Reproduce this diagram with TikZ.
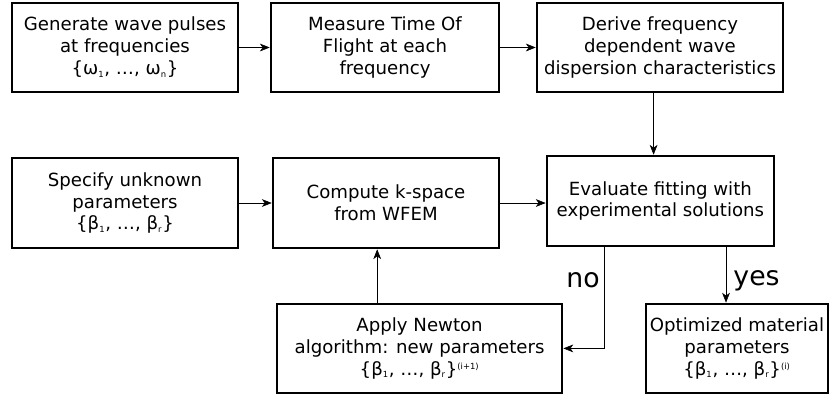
\documentclass[tikz,border=0pt]{standalone}
\usepackage{fontspec}
\setmainfont{DejaVu Sans}
\usetikzlibrary{positioning}
\usetikzlibrary{calc}
\usetikzlibrary{arrows.meta}
\tikzset{stage/.style={draw,line width=1.8pt,align=center,inner sep=2pt,
  minimum height=2.225cm,font=\fontsize{12.9}{15.6}\selectfont}}
\tikzset{lbl/.style={inner sep=0pt,font=\fontsize{19}{20}\selectfont}}
\tikzset{>={Stealth[length=7pt,width=5.5pt,inset=2pt]}}
\newcommand{\sub}[1]{\textsubscript{\fontsize{6}{6}\selectfont #1}}
\newcommand{\bset}{\{β\sub{1}, …, β\sub{r}\}}

\begin{document}
\begin{tikzpicture}
\useasboundingbox (0,0) rectangle (20.875,-9.975);

\node[stage,minimum width=5.65cm] (gen) at (3.125,-1.1875)
  {Generate wave pulses\\at frequencies\\\{ω\sub{1}, …, ω\sub{n}\}};
\node[stage,minimum width=5.7cm] (tof) at (9.625,-1.1875)
  {Measure Time Of\\Flight at each\\frequency};
\node[stage,minimum width=6.15cm] (disp) at (16.5,-1.1875)
  {Derive frequency\\dependent wave\\dispersion characteristics};

\node[stage,minimum width=5.65cm,minimum height=2.25cm] (spec) at (3.125,-5.075)
  {Specify unknown\\parameters\\\bset};
\node[stage,minimum width=5.65cm,minimum height=2.25cm] (wfem) at (9.65,-5.075)
  {Compute k-space\\from WFEM};
\node[stage,minimum width=5.675cm,minimum height=2.25cm] (eval) at (16.51,-5.025)
  {Evaluate fitting with\\experimental solutions};

\node[stage,minimum width=7.125cm] (newton) at (10.49,-8.71)
  {Apply Newton\\algorithm: new parameters\\\bset\textsuperscript{\fontsize{6}{6}\selectfont(i+1)}};
\node[stage,minimum width=4.55cm] (opt) at (18.425,-8.71)
  {Optimized material\\parameters\\\bset\textsuperscript{\fontsize{6}{6}\selectfont(i)}};

\draw[->] (gen) -- (tof);
\draw[->] (tof) -- (disp);
\draw[->] ([xshift=-0.16cm]disp.south) -- ([xshift=-0.16cm]disp.south |- eval.north);
\draw[->] (spec) -- (wfem);
\draw[->] (wfem.east) -- (wfem.east -| eval.west);
\draw[->] ([xshift=-1.06cm]newton.north) -- ([xshift=-1.06cm]newton.north |- wfem.south);
\draw[->] ([xshift=-1.41cm]eval.south) |- (newton.east);
\draw[->] ([xshift=1.64cm]eval.south) -- ([xshift=1.64cm]eval.south |- opt.north);

\node[lbl,anchor=base east] (no) at (15.0,-7.175) {no};
\node[lbl,anchor=base west] (yes) at (18.33,-7.125) {yes};

\end{tikzpicture}
\end{document}
